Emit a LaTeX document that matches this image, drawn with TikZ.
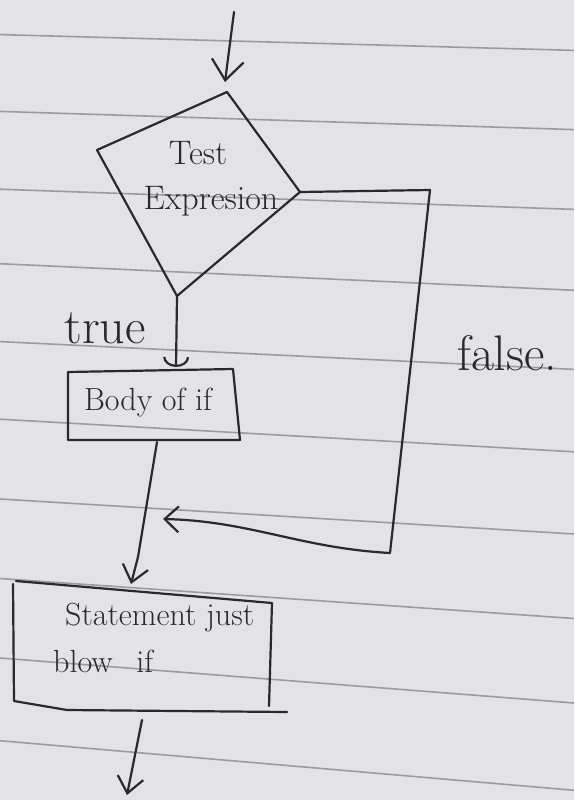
\documentclass[tikz,border=0pt]{standalone}
\usetikzlibrary{arrows.meta}
\definecolor{paper}{HTML}{E3E2E7}
\definecolor{rulecol}{HTML}{9C9AA3}
\definecolor{ink}{HTML}{2C282D}
\begin{document}
\begin{tikzpicture}[x=1pt,y=-1pt,
  inkline/.style={draw=ink,line width=2.2pt,line cap=round,line join=round},
  ruled/.style={draw=rulecol,line width=1.6pt},
  lbl/.style={text=ink,inner sep=0pt,font=\fontsize{#1}{#1}\selectfont},
  tiptop/.style={-{Straight Barb[length=20pt,width=32pt]}},
  tipsmall/.style={-{Straight Barb[length=16pt,width=26pt]}},
  tipleft/.style={-{Straight Barb[length=14pt,width=26pt]}},
  tipu/.style={-{Arc Barb[length=10pt,width=26pt]}}]
\useasboundingbox (0,0) rectangle (574,800);
\fill[paper] (0,0) rectangle (574,800);
% ruled lines of the paper
\draw[ruled] (0,34.6)--(574,50.4);
\draw[ruled] (0,111.4)--(574,129.6);
\draw[ruled] (0,189.2)--(574,209.4);
\draw[ruled] (0,263.7)--(574,290.3);
\draw[ruled] (0,341.6)--(574,369.4);
\draw[ruled] (0,419.2)--(574,451.8);
\draw[ruled] (0,499)--(574,534);
\draw[ruled] (0,578.5)--(574,618.5);
\draw[ruled] (0,658)--(574,703);
\draw[ruled] (0,740.7)--(574,790.3);

% coordinates
\coordinate (topstart) at (234,12);
\coordinate (intip) at (225,82);
\coordinate (dT) at (227,92);
\coordinate (dR) at (300,192);
\coordinate (dB) at (177,296);
\coordinate (dL) at (97,150);
\coordinate (bodyin) at (176,367);
\coordinate (bTL) at (68,372);
\coordinate (bTR) at (233,369);
\coordinate (bBR) at (240,440);
\coordinate (bBL) at (68,440);
\coordinate (bodyout) at (157,442);
\coordinate (bend) at (138,557);
\coordinate (stmtin) at (131,584);
\coordinate (fc1) at (430,190);
\coordinate (fc2) at (390,553);
\coordinate (join) at (163,519);
\coordinate (sTL) at (16,581);
\coordinate (sTR) at (272,603);
\coordinate (sRB) at (269,706);
\coordinate (sLT) at (13,584);
\coordinate (sLB) at (14,701);
\coordinate (sBM) at (67,710);
\coordinate (sBR) at (287,712);
\coordinate (stmtout) at (142,720);
\coordinate (endpt) at (127,795);

% shapes
\draw[inkline] (dT) -- (dR) -- (dB) -- (dL) -- cycle;
\draw[inkline] (bTL) -- (bTR) -- (bBR) -- (bBL) -- cycle;
\draw[inkline] (sTL) -- (sTR) -- (sRB);
\draw[inkline] (sLT) -- (sLB) -- (sBM) -- (sBR);

% texts
\node[lbl=34,align=center] (test) at (211,179) {\hspace*{-26pt}Test\\[11pt]Expresion};
\node[lbl=32] (body) at (148,403) {Body of if};
\node[lbl=50,anchor=base] (truelbl) at (105,343) {true};
\node[lbl=50,anchor=base west] (falselbl) at (457,370) {false.};
\node[lbl=32,anchor=base west] (stmtA) at (65,625) {Statement just};
\node[lbl=32,anchor=base west] (stmtB) at (53,672) {blow\hspace{14pt} if};

% connectors
\draw[inkline,tiptop] (topstart) -- (intip);
\draw[inkline,tipu] (dB) -- (bodyin);
\draw[inkline,tipleft] (dR) -- (fc1) -- (fc2) .. controls (300,548) and (250,521) .. (join);
\draw[inkline,tipsmall] (bodyout) -- (bend) -- (stmtin);
\draw[inkline,tipsmall] (stmtout) -- (endpt);
\end{tikzpicture}
\end{document}
